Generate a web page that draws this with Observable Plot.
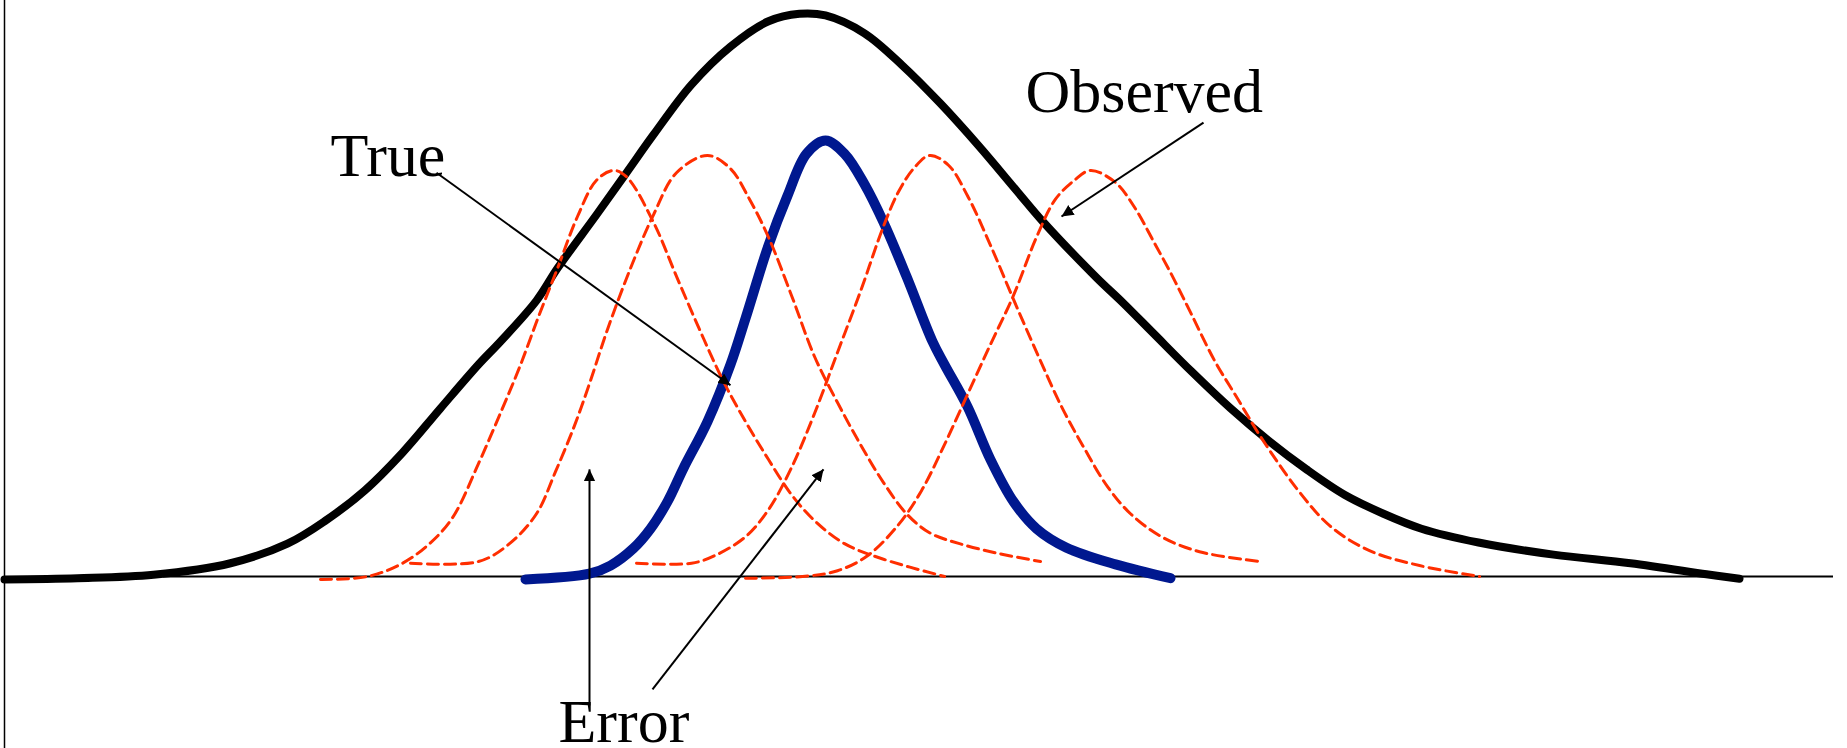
<!DOCTYPE html>
<html>
<head>
<meta charset="utf-8">
<script src="https://cdn.jsdelivr.net/npm/d3@7"></script>
<script src="https://cdn.jsdelivr.net/npm/@observablehq/plot@0.6"></script>
<style>
  html, body { margin: 0; padding: 0; background: #ffffff; }
  #chart svg { display: block; }
</style>
</head>
<body>
<div id="chart"></div>
<script>
// ---- Data (x: score units, y: density units; baseline y = 0) ----
const observedX = [0.4, 7.7, 15.3, 23.0, 28.7, 32.5, 36.4, 40.2, 44.0, 47.8, 50.0, 53.6, 55.7, 59.6, 62.6, 65.3, 69.1, 73.0, 76.8, 79.9, 82.5, 86.4, 90.2, 94.0, 97.8, 101.7, 104.3, 109.6, 112.2, 115.3, 119.1, 123.0, 126.8, 130.6, 134.4, 138.3, 142.1, 147.8, 155.3, 163.0, 170.6, 173.9];
const observedY = [-0.5, -0.3, 0.3, 2.3, 5.7, 9.7, 14.9, 21.5, 29.2, 36.8, 40.8, 47.9, 53.5, 62.8, 70.1, 76.7, 85.4, 92.0, 96.4, 97.7, 97.4, 94.3, 88.7, 82.1, 74.8, 66.8, 61.5, 51.9, 47.6, 42.2, 35.6, 29.2, 23.6, 18.6, 14.2, 10.9, 8.3, 5.9, 3.8, 2.3, 0.4, -0.4];

const trueX = [52.5, 58.9, 61.0, 63.3, 65.0, 66.7, 68.3, 70.7, 73.0, 74.5, 76.8, 78.7, 80.6, 82.5, 84.4, 86.4, 88.3, 90.6, 93.2, 94.4, 96.7, 99.0, 101.3, 103.6, 106.6, 111.5, 117.0];
const trueY = [-0.5, 0.5, 1.9, 4.9, 8.3, 13.0, 18.8, 26.9, 36.8, 44.8, 57.5, 66.1, 73.4, 75.7, 73.4, 68.1, 61.5, 52.1, 40.8, 36.8, 29.5, 20.3, 13.0, 8.3, 5.0, 2.1, -0.3];

const errorAX = [32.0, 36.7, 40.2, 42.9, 45.2, 47.8, 50.1, 51.9, 53.8, 55.7, 57.7, 59.6, 61.3, 62.6, 65.3, 67.6, 69.9, 72.2, 74.5, 76.8, 79.1, 81.4, 84.4, 88.3, 94.4];
const errorAY = [-0.5, 0.0, 2.3, 5.7, 10.2, 19.6, 28.8, 36.3, 45.1, 53.5, 62.5, 68.8, 70.5, 69.4, 61.5, 52.1, 42.9, 34.2, 26.9, 20.3, 14.2, 9.7, 5.7, 3.0, 0.0];

const errorBX = [41.0, 47.8, 50.9, 53.6, 55.5, 57.4, 58.9, 60.7, 63.0, 65.3, 67.6, 70.7, 73.0, 74.9, 76.8, 79.1, 81.4, 83.7, 86.0, 88.3, 90.6, 92.9, 95.9, 99.8, 104.0];
const errorBY = [2.3, 2.6, 5.7, 10.9, 18.2, 26.2, 33.5, 42.9, 53.5, 62.8, 70.1, 73.1, 70.8, 65.5, 58.9, 48.8, 38.2, 30.2, 22.9, 16.3, 10.9, 7.6, 5.7, 4.0, 2.6];

const errorCX = [63.6, 69.1, 71.4, 74.5, 76.8, 79.1, 81.4, 83.7, 86.0, 88.3, 89.8, 91.3, 92.9, 94.8, 96.7, 99.0, 101.3, 103.8, 106.1, 108.4, 110.7, 113.0, 116.1, 119.9, 126.0];
const errorCY = [2.3, 2.3, 3.6, 6.9, 11.6, 18.9, 28.3, 38.9, 49.5, 60.8, 66.8, 70.8, 73.1, 71.4, 66.1, 57.5, 48.1, 38.2, 29.5, 22.2, 15.6, 10.9, 6.9, 4.3, 2.6];

const errorDX = [74.5, 80.2, 83.7, 86.7, 89.8, 92.1, 94.4, 96.7, 99.0, 101.3, 103.6, 105.5, 107.4, 109.0, 111.5, 113.4, 115.3, 117.2, 119.1, 121.4, 123.7, 126.0, 129.7, 133.0, 136.9, 141.9, 147.9];
const errorDY = [-0.3, 0.0, 1.0, 3.6, 9.0, 14.9, 22.9, 31.6, 40.3, 48.8, 58.9, 65.5, 68.8, 70.5, 68.4, 64.1, 58.2, 52.1, 45.5, 37.5, 30.9, 24.3, 15.1, 8.7, 4.5, 1.9, 0.0];

// annotation arrows
const arrowX1 = [43.6, 120.3, 58.9, 65.2];
const arrowY1 = [70.1, 78.8, -22.4, -19.6];
const arrowX2 = [73.0, 106.1, 58.9, 82.3];
const arrowY2 = [33.2, 62.5, 18.6, 18.6];

// labels
const labelText = ["True", "Observed", "Error"];
const labelX = [33.0, 102.5, 55.8];
const labelY = [69.6, 80.6, -28.8];

// axis line extents
const baselineStart = 16.3;
const baselineEnd = 183.3;
const frameX = 0.4;

// ---- Build tables ----
const toPts = (xs, ys) => xs.map((x, i) => ({x, y: ys[i]}));
const observed = toPts(observedX, observedY);
const truth = toPts(trueX, trueY);
const errors = [
  ...toPts(errorAX, errorAY).map(d => ({...d, k: "A"})),
  ...toPts(errorBX, errorBY).map(d => ({...d, k: "B"})),
  ...toPts(errorCX, errorCY).map(d => ({...d, k: "C"})),
  ...toPts(errorDX, errorDY).map(d => ({...d, k: "D"}))
];
const arrows = arrowX1.map((x1, i) => ({x1, y1: arrowY1[i], x2: arrowX2[i], y2: arrowY2[i]}));
const labels = labelText.map((t, i) => ({t, x: labelX[i], y: labelY[i]}));

// filled triangular arrowhead marker
const filledHead = (color, context) => {
  const doc = (context && context.document) || document;
  const ns = "http://www.w3.org/2000/svg";
  const m = doc.createElementNS(ns, "marker");
  m.setAttribute("viewBox", "-12 -6 12 12");
  m.setAttribute("markerWidth", 12);
  m.setAttribute("markerHeight", 12);
  m.setAttribute("markerUnits", "userSpaceOnUse");
  m.setAttribute("refX", 0);
  m.setAttribute("refY", 0);
  m.setAttribute("orient", "auto");
  const p = doc.createElementNS(ns, "path");
  p.setAttribute("d", "M-12,-5.8L0,0L-12,5.8Z");
  p.setAttribute("fill", color);
  p.setAttribute("stroke", "none");
  m.appendChild(p);
  return m;
};

const W = 1847, H = 748;
const chart = Plot.plot({
  width: W,
  height: H,
  margin: 0,
  x: {domain: [0, 184.7], axis: null},
  y: {domain: [-29.86, 100], axis: null},
  style: {background: "#ffffff", overflow: "visible"},
  marks: [
    Plot.ruleX([frameX], {stroke: "#000", strokeWidth: 1.5}),
    Plot.ruleY([0], {x1: baselineStart, x2: baselineEnd, stroke: "#000", strokeWidth: 2}),
    Plot.line(observed, {x: "x", y: "y", curve: "catmull-rom", stroke: "#000000", strokeWidth: 8}),
    Plot.line(truth, {x: "x", y: "y", curve: "catmull-rom", stroke: "#00188f", strokeWidth: 10}),
    Plot.line(errors, {x: "x", y: "y", z: "k", curve: "catmull-rom", stroke: "#ff2e00", strokeWidth: 3, strokeDasharray: "11,6"}),
    Plot.link(arrows, {x1: "x1", y1: "y1", x2: "x2", y2: "y2", stroke: "#000", strokeWidth: 2, markerEnd: filledHead}),
    Plot.text(labels, {x: "x", y: "y", text: "t", textAnchor: "start", lineAnchor: "bottom", fontFamily: "'Liberation Serif', 'Times New Roman', serif", fontSize: 62, fill: "#000"})
  ]
});
document.getElementById("chart").appendChild(chart);
</script>
</body>
</html>
